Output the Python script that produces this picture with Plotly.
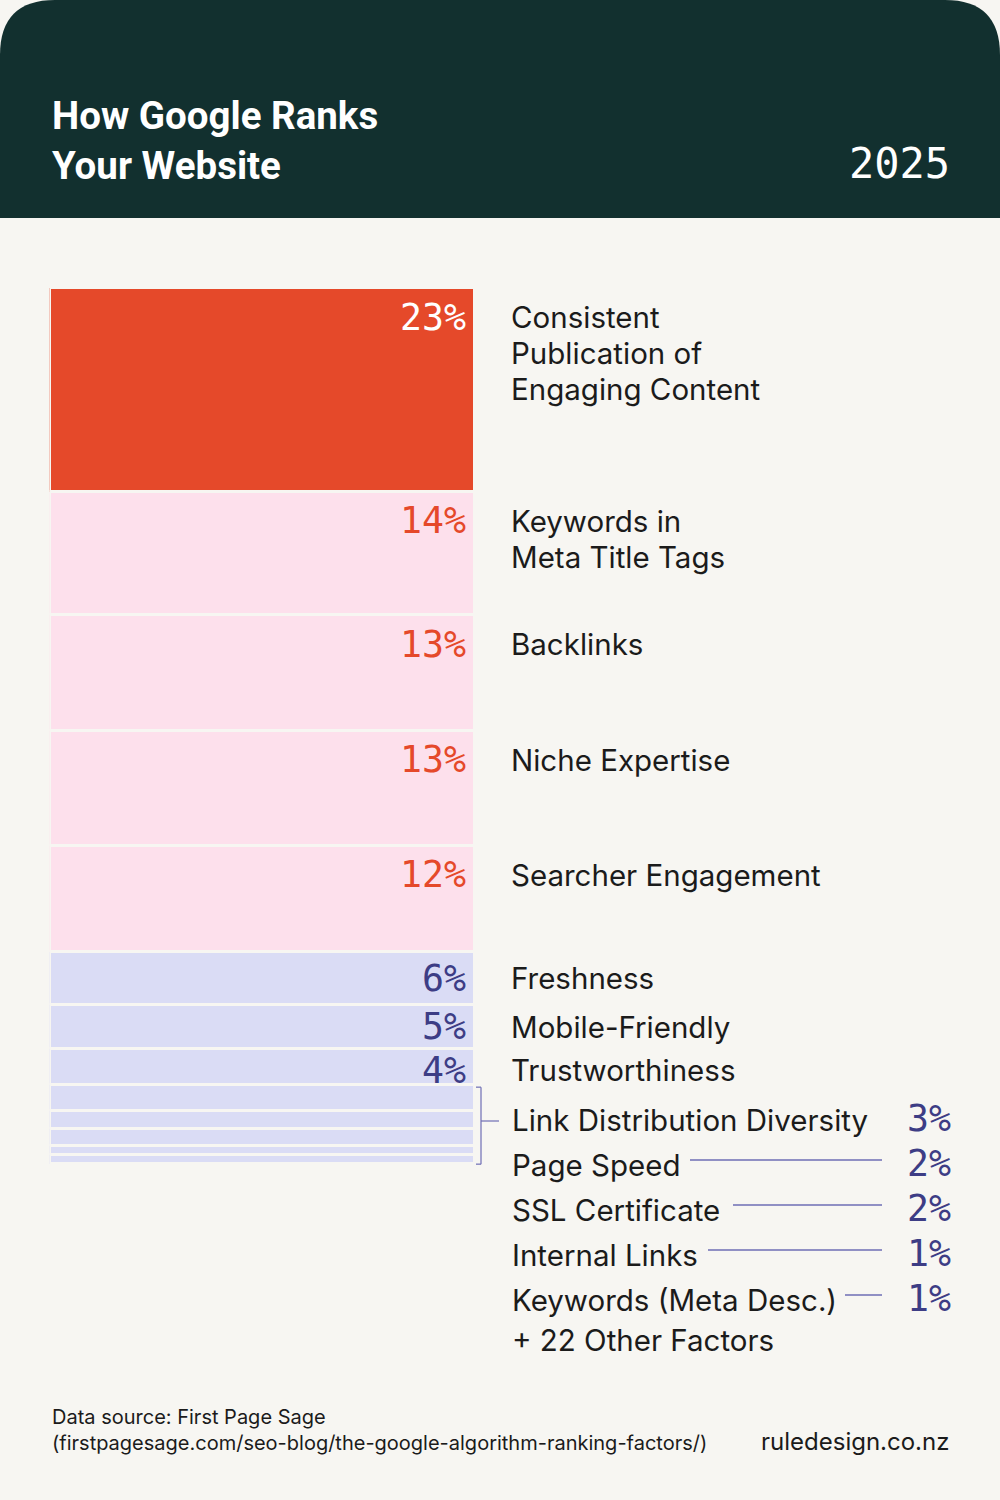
import plotly.graph_objects as go

# ---------------- data ----------------
factors = [
    "Consistent<br>Publication of<br>Engaging Content",
    "Keywords in<br>Meta Title Tags",
    "Backlinks",
    "Niche Expertise",
    "Searcher Engagement",
    "Freshness",
    "Mobile-Friendly",
    "Trustworthiness",
    "Link Distribution Diversity",
    "Page Speed",
    "SSL Certificate",
    "Internal Links",
    "Keywords (Meta Desc.)",
]
shares = [23, 14, 13, 13, 12, 6, 5, 4, 3, 2, 2, 1, 1]
other_label = "+ 22 Other Factors"
title_lines = ["How Google Ranks", "Your Website"]
year_label = "2025"
source_lines = ["Data source: First Page Sage",
                "(firstpagesage.com/seo-blog/the-google-algorithm-ranking-factors/)"]
brand = "ruledesign.co.nz"

# ---------------- styling ----------------
W, H = 1000, 1500
BG = "#f7f6f2"
HEADER = "#12302f"
RED = "#e5492a"
PINK = "#fde0ec"
LAV = "#dadcf5"
INDIGO = "#3d3d85"
LINE = "#6e6eb4"
TEXT = "#1b1b1b"
LABEL_FONT = "Inter"
LABEL_SIZE = 29.5
LINE_GAP = 36
MONO = "DejaVu Sans Mono"
PCT_SIZE = 36.5

PPU = 8.85          # pixels per percentage point
TOP_PX = 288        # pixel where bar starts


def px_to_paper_y(p):
    return 1 - p / H


def seg_color(v):
    if v >= 20:
        return RED
    if v >= 10:
        return PINK
    return LAV


def pct_color(v):
    if v >= 20:
        return "white"
    if v >= 10:
        return RED
    return INDIGO


fig = go.Figure()

for name, v in zip(factors, shares):
    fig.add_trace(go.Bar(
        x=["factors"], y=[v], name=name.replace("<br>", " "),
        marker=dict(color=seg_color(v), line=dict(color=BG, width=3)),
        hoverinfo="skip", showlegend=False,
    ))

annotations = []
shapes = []

# header block with rounded top corners
r_x, r_y = 55 / W, 55 / H
hb = px_to_paper_y(218)
shapes.append(dict(
    type="path", xref="paper", yref="paper",
    path=(f"M 0,{hb} L 0,{1 - r_y} Q 0,1 {r_x},1 L {1 - r_x},1 "
          f"Q 1,1 1,{1 - r_y} L 1,{hb} Z"),
    fillcolor=HEADER, line=dict(width=0), layer="below",
))

annotations.append(dict(
    xref="paper", yref="paper", x=50 / W, y=px_to_paper_y(141),
    xanchor="left", yanchor="middle", align="left", showarrow=False,
    text="<br>".join(f"<b>{t}</b>" for t in title_lines),
    font=dict(family="Roboto", size=38.5, color="white"),
))
annotations.append(dict(
    xref="paper", yref="paper", x=952 / W, y=px_to_paper_y(163),
    xanchor="right", yanchor="middle", showarrow=False,
    text=year_label, font=dict(family=MONO, size=42, color="white"),
))

# labels for big segments
cum = 0
for name, v in zip(factors, shares):
    base = cum
    cum += v
    if v < 4:
        continue
    off_px = min(29, max(21, 0.5 * v * PPU))
    yc = base + off_px / PPU
    annotations.append(dict(
        xref="paper", yref="y", x=468 / W, y=yc, xanchor="right", yanchor="middle",
        showarrow=False, text=f"{v}%",
        font=dict(family=MONO, size=PCT_SIZE, color=pct_color(v)),
    ))
    for k, line_txt in enumerate(name.split("<br>")):
        annotations.append(dict(
            xref="paper", yref="y", x=509 / W, y=yc, xanchor="left", yanchor="middle",
            align="left", showarrow=False, text=line_txt, yshift=-k * LINE_GAP,
            font=dict(family=LABEL_FONT, size=LABEL_SIZE, color=TEXT),
        ))

# small factors listed
small_start = sum(v for v in shares if v >= 4)
total = sum(shares)
list_y0, list_step = 1120, 45
line_starts = [None, 690, 733, 708, 845]
small = [(n, v) for n, v in zip(factors, shares) if v < 4]
for i, (name, v) in enumerate(small):
    yp = list_y0 + i * list_step
    annotations.append(dict(
        xref="paper", yref="paper", x=510 / W, y=px_to_paper_y(yp),
        xanchor="left", yanchor="middle", showarrow=False, text=name,
        font=dict(family=LABEL_FONT, size=LABEL_SIZE, color=TEXT),
    ))
    annotations.append(dict(
        xref="paper", yref="paper", x=953 / W, y=px_to_paper_y(yp - 2),
        xanchor="right", yanchor="middle", showarrow=False, text=f"{v}%",
        font=dict(family=MONO, size=PCT_SIZE, color=INDIGO),
    ))
    ls = line_starts[i] if i < len(line_starts) else None
    if ls is not None:
        shapes.append(dict(
            type="line", xref="paper", yref="paper",
            x0=ls / W, x1=882 / W, y0=px_to_paper_y(yp - 5), y1=px_to_paper_y(yp - 5),
            line=dict(color=LINE, width=1.5),
        ))
annotations.append(dict(
    xref="paper", yref="paper", x=510 / W, y=px_to_paper_y(list_y0 + len(small) * list_step - 5),
    xanchor="left", yanchor="middle", showarrow=False, text=other_label,
    font=dict(family=LABEL_FONT, size=LABEL_SIZE, color=TEXT),
))

# bracket for small segments
bx, bl = 481 / W, 476 / W
b_top = small_start + 0.3
b_bot = total
for x0, x1, y0, y1 in [(bx, bx, b_top, b_bot), (bl, bx, b_top, b_top), (bl, bx, b_bot, b_bot)]:
    shapes.append(dict(type="line", xref="paper", yref="y", x0=x0, x1=x1, y0=y0, y1=y1,
                       line=dict(color=LINE, width=1.2)))
shapes.append(dict(type="line", xref="paper", yref="paper", x0=bx, x1=499 / W,
                   y0=px_to_paper_y(list_y0 + 1), y1=px_to_paper_y(list_y0 + 1),
                   line=dict(color=LINE, width=1.2)))

# footer
annotations.append(dict(
    xref="paper", yref="paper", x=50 / W, y=px_to_paper_y(1430),
    xanchor="left", yanchor="middle", align="left", showarrow=False,
    text="<br>".join(source_lines),
    font=dict(family="Inter", size=20, color=TEXT),
))
annotations.append(dict(
    xref="paper", yref="paper", x=951 / W, y=px_to_paper_y(1441),
    xanchor="right", yanchor="middle", showarrow=False, text=brand,
    font=dict(family="Inter", size=24, color=TEXT),
))

fig.update_layout(
    width=W, height=H, margin=dict(l=0, r=0, t=0, b=0),
    paper_bgcolor=BG, plot_bgcolor="rgba(0,0,0,0)",
    barmode="stack", bargap=0,
    xaxis=dict(domain=[49.5 / W, 474.5 / W], range=[-0.5, 0.5], visible=False, fixedrange=True),
    yaxis=dict(domain=[0, 1], range=[(H - TOP_PX) / PPU, -TOP_PX / PPU], visible=False,
               fixedrange=True),
    annotations=annotations, shapes=shapes,
)

fig.write_html(
    "out.html",
    config={"displayModeBar": False},
    post_script="document.body.style.margin='0';document.body.style.background='#f7f6f2';",
)
